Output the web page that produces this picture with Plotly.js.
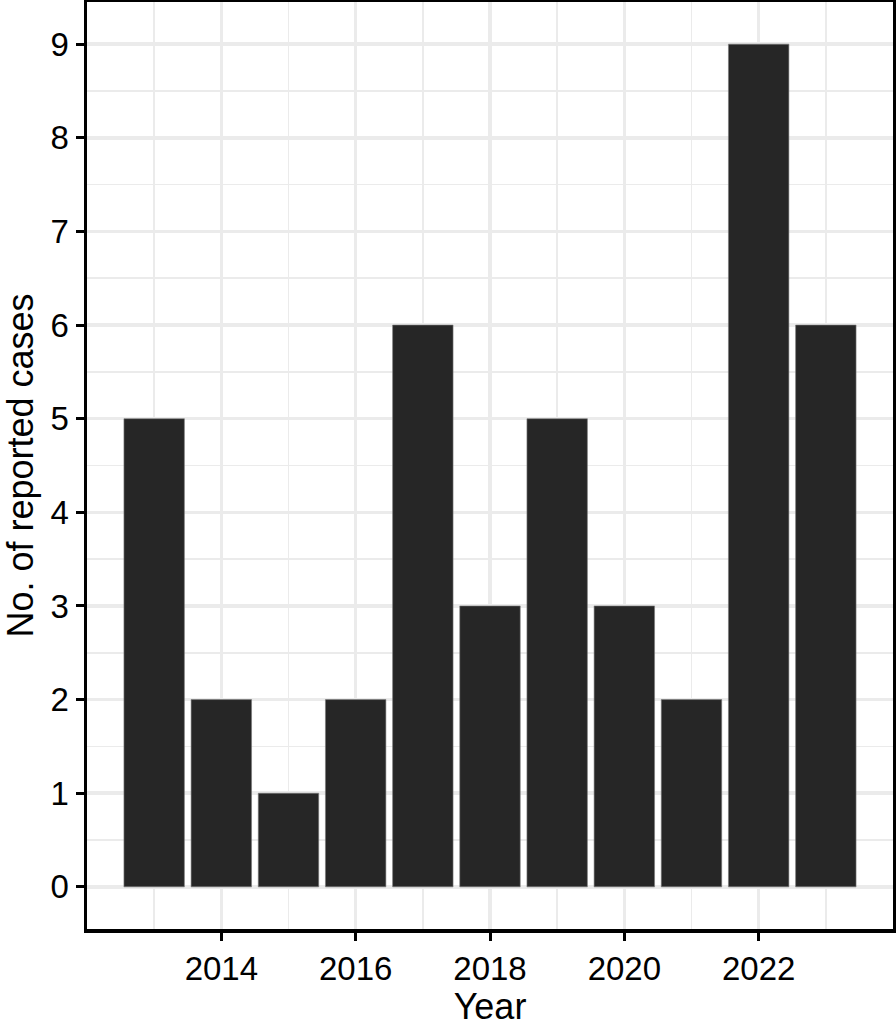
<!DOCTYPE html>
<html>
<head>
<meta charset="utf-8">
<script src="https://cdn.plot.ly/plotly-3.0.1.min.js"></script>
<style>
html, body { margin: 0; padding: 0; background: #ffffff; }
#chart { width: 896px; height: 1027px; }
</style>
</head>
<body>
<div id="chart"></div>
<script>
const years = [2013, 2014, 2015, 2016, 2017, 2018, 2019, 2020, 2021, 2022, 2023];
const cases = [5, 2, 1, 2, 6, 3, 5, 3, 2, 9, 6];
const xTickVals = [2014, 2016, 2018, 2020, 2022];
const xTickText = ["2014", "2016", "2018", "2020", "2022"];
const yTickVals = [0, 1, 2, 3, 4, 5, 6, 7, 8, 9];

const fontFamily = "Liberation Sans, Arial, Helvetica, sans-serif";

const trace = {
  type: "bar",
  x: years,
  y: cases,
  width: 0.9,
  marker: { color: "#262626", line: { color: "#7a7a7a", width: 0.6 } },
  hoverinfo: "x+y"
};

const layout = {
  width: 896,
  height: 1027,
  margin: { l: 87, r: 3, t: 2, b: 98, pad: 0 },
  paper_bgcolor: "#ffffff",
  plot_bgcolor: "#ffffff",
  showlegend: false,
  font: { family: fontFamily, color: "#000000", size: 33 },
  bargap: 0,
  xaxis: {
    range: [2012, 2024],
    tickmode: "array",
    tickvals: xTickVals,
    ticktext: xTickText,
    ticks: "outside",
    ticklen: 8,
    tickwidth: 3,
    tickcolor: "#000000",
    tickfont: { family: fontFamily, size: 33, color: "#000000" },
    showgrid: true,
    gridcolor: "#EBEBEB",
    gridwidth: 3.5,
    minor: { tickmode: "array", tickvals: [2013, 2015, 2017, 2019, 2021, 2023], showgrid: true, gridcolor: "#EBEBEB", gridwidth: 1.8, ticks: "" },
    showline: true,
    linecolor: "#000000",
    linewidth: 3.5,
    mirror: true,
    zeroline: false,
    title: { text: "Year", font: { family: fontFamily, size: 36, color: "#000000" }, standoff: 12 }
  },
  yaxis: {
    range: [-0.45, 9.45],
    tickmode: "array",
    tickvals: yTickVals,
    ticks: "outside",
    ticklen: 8,
    tickwidth: 3,
    tickcolor: "#000000",
    tickfont: { family: fontFamily, size: 33, color: "#000000" },
    showgrid: true,
    gridcolor: "#EBEBEB",
    gridwidth: 3.5,
    minor: { dtick: 0.5, tick0: 0.5, showgrid: true, gridcolor: "#EBEBEB", gridwidth: 1.8, ticks: "" },
    showline: true,
    linecolor: "#000000",
    linewidth: 3.5,
    mirror: true,
    zeroline: false,
    title: { text: "No. of reported cases", font: { family: fontFamily, size: 36, color: "#000000" }, standoff: 12 }
  }
};

Plotly.newPlot("chart", [trace], layout, { displayModeBar: false, staticPlot: true });
</script>
</body>
</html>
